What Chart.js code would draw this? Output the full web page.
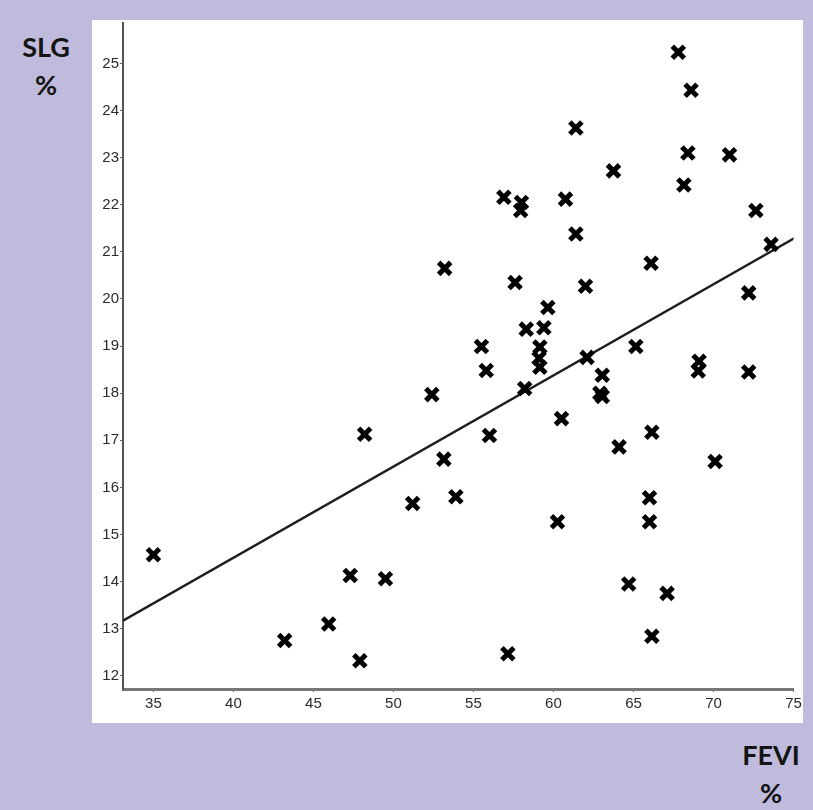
<!DOCTYPE html>
<html>
<head>
<meta charset="utf-8">
<script src="https://cdn.jsdelivr.net/npm/chart.js@4/dist/chart.umd.min.js"></script>
<style>
  body { margin: 0; background: #c0bbdc; width: 813px; height: 810px; overflow: hidden; position: relative; }
  #panel { position: absolute; left: 92px; top: 20px; width: 711px; height: 703px; background: #fff; }
  #myChart { position: absolute; left: 92px; top: 9px; }
  .lbl { position: absolute; font-family: Lato, "Open Sans", sans-serif; font-weight: bold; font-size: 27px; color: #141414; text-align: center; }
</style>
</head>
<body>
<div class="lbl" style="left:18px; top:30px; width:56px;">SLG</div>
<div class="lbl" style="left:18px; top:68px; width:56px;">%</div>
<div id="panel"></div>
<canvas id="myChart" width="715" height="713"></canvas>
<div class="lbl" style="left:736px; top:738px; width:70px;">FEVI</div>
<div class="lbl" style="left:736px; top:776px; width:70px;">%</div>
<script>
// FEVI % (x) / SLG % (y)
const fevi = [35.0, 43.2, 45.95, 47.3, 47.9, 48.2, 49.5, 51.2, 52.4, 53.2,
  53.15, 53.9, 55.5, 55.8, 56.0, 56.9, 57.15, 57.6, 58.0, 57.95,
  58.3, 58.2, 59.4, 59.65, 59.15, 59.1, 59.15, 60.5, 60.25, 60.75,
  61.4, 61.4, 62.0, 62.1, 63.05, 62.9, 63.05, 63.75, 64.1, 64.7,
  65.15, 66.1, 66.15, 66.0, 66.0, 66.15, 67.1, 67.8, 68.6, 68.4,
  68.15, 69.1, 69.05, 70.1, 71.0, 72.2, 72.2, 72.65, 73.6];
const slg = [14.57, 12.75, 13.1, 14.13, 12.32, 17.13, 14.06, 15.66, 17.97, 20.65,
  16.6, 15.8, 18.99, 18.48, 17.1, 22.16, 12.47, 20.35, 22.05, 21.88,
  19.36, 18.1, 19.39, 19.82, 18.98, 18.74, 18.55, 17.46, 15.27, 22.12,
  21.38, 23.63, 20.27, 18.76, 18.38, 18.0, 17.93, 22.72, 16.86, 13.95,
  18.99, 20.76, 17.17, 15.78, 15.27, 12.84, 13.75, 25.24, 24.43, 23.1,
  22.42, 18.68, 18.47, 16.55, 23.06, 20.13, 18.45, 21.88, 21.16];

// regression line ends
const trendX = [33.1, 75.1];
const trendY = [13.17, 21.3];

const xTicks = [35, 40, 45, 50, 55, 60, 65, 70, 75];
const yTicks = [12, 13, 14, 15, 16, 17, 18, 19, 20, 21, 22, 23, 24, 25];

window.onload = () => {
  drawChart();
};

function drawChart() {
  const ctx = document.getElementById('myChart').getContext('2d');
  const tickFont = { family: "'Liberation Sans', sans-serif", size: 15 };
  new Chart(ctx, {
    type: 'scatter',
    data: {
      datasets: [{
        data: fevi.map((v, i) => ({x: v, y: slg[i]})),
        pointStyle: 'crossRot',
        pointRadius: 8.5,
        borderColor: '#000',
        borderWidth: 5,
        showLine: false
      }, {
        data: trendX.map((v, i) => ({x: v, y: trendY[i]})),
        showLine: true,
        pointRadius: 0,
        borderColor: '#1e1e1e',
        borderWidth: 2.5
      }]
    },
    options: {
      responsive: false,
      animation: false,
      layout: { padding: { top: 0, right: 0, left: 0, bottom: 0 } },
      plugins: { legend: { display: false }, tooltip: { enabled: false } },
      scales: {
        x: {
          type: 'linear',
          min: 33.1,
          max: 75,
          afterBuildTicks: (axis) => { axis.ticks = xTicks.map(v => ({value: v})); },
          afterFit: (scale) => { scale.height = 33; },
          grid: { drawOnChartArea: false, drawTicks: true, tickLength: 3, color: '#777' },
          border: { display: true, color: '#777', width: 3 },
          ticks: { color: '#2a2a2a', padding: 3, font: tickFont }
        },
        y: {
          type: 'linear',
          min: 11.72,
          max: 25.87,
          afterBuildTicks: (axis) => { axis.ticks = yTicks.map(v => ({value: v})); },
          afterFit: (scale) => { scale.width = 31; },
          grid: { drawOnChartArea: false, drawTicks: true, tickLength: 3, color: '#666' },
          border: { display: true, color: '#555', width: 2 },
          ticks: { color: '#2a2a2a', padding: 1, font: tickFont }
        }
      }
    }
  });
}
</script>
</body>
</html>
